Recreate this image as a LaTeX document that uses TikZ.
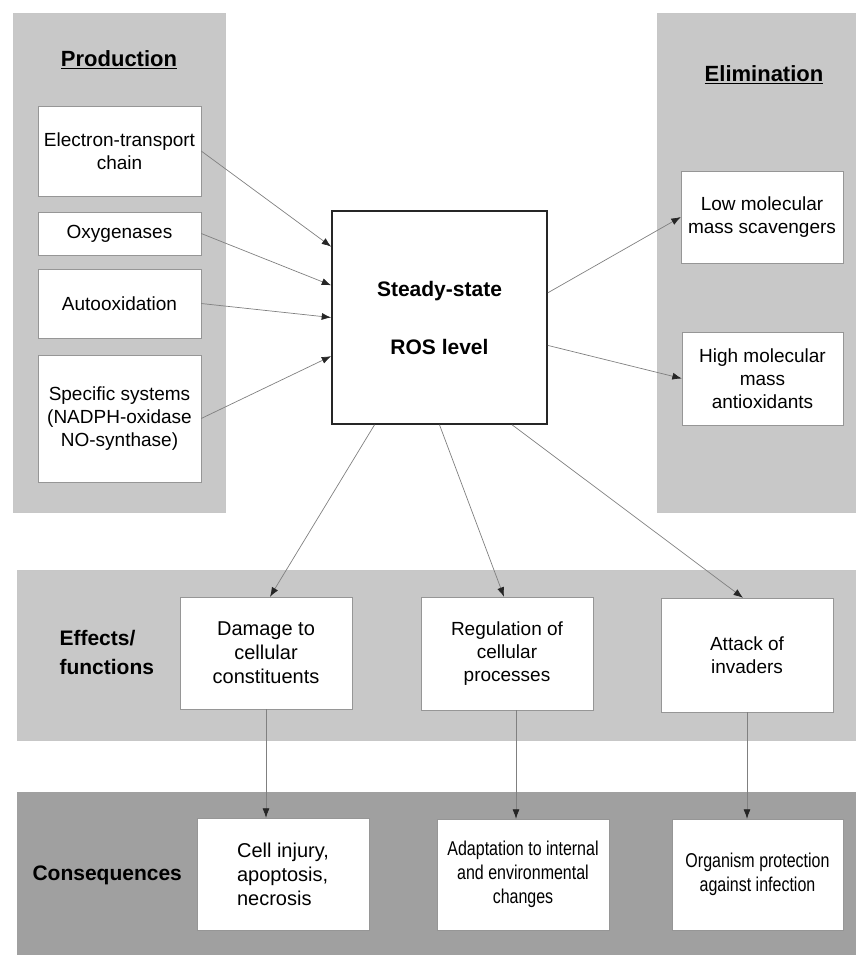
\documentclass[tikz,border=0pt]{standalone}
\usepackage{fontspec}
\setmainfont{Liberation Sans}
\newfontfamily\narrowsans[FakeStretch=0.8]{Liberation Sans}
\usepackage{tikz}
\usetikzlibrary{shapes,arrows.meta,positioning,calc}
\definecolor{lightpanel}{RGB}{200,200,200}
\definecolor{darkpanel}{RGB}{160,160,160}
\definecolor{edgegray}{RGB}{150,150,150}

\begin{document}
\begin{tikzpicture}[
    x=1pt, y=-1pt,
    panel/.style={rectangle, draw=black!22, fill=lightpanel, inner sep=0pt},
    darkpanel/.style={panel, fill=darkpanel, draw=darkpanel},
    box/.style={rectangle, draw=edgegray, fill=white, align=center, inner sep=2pt, font=\fontsize{19}{23}\selectfont},
    bigbox/.style={box, font=\fontsize{20}{24}\selectfont},
    narrowbox/.style={box, font=\narrowsans\fontsize{20}{24}\selectfont},
    rosbox/.style={rectangle, draw=black!85, line width=1.6pt, fill=white, align=center, font=\fontsize{21}{58}\selectfont\bfseries},
    heading/.style={font=\fontsize{22}{26}\selectfont\bfseries},
    rowlabel/.style={anchor=west, align=left, font=\fontsize{21}{29}\selectfont\bfseries},
    arrow/.style={-{Latex[length=9.5pt,width=7pt,color=black!85]}, draw=black!50, line width=0.7pt}
]
\useasboundingbox (0,0) rectangle (856,955);

% Panels
\node[panel, minimum width=212, minimum height=499] (prodpanel) at (119,262.5) {};
\node[panel, minimum width=199, minimum height=499] (elimpanel) at (756.5,262.5) {};
\node[panel, minimum width=839, minimum height=170] (effpanel) at (436.5,655) {};
\node[darkpanel, minimum width=839, minimum height=163] (conspanel) at (436.5,873.5) {};

% Headings
\node[heading] (prodtitle) at (119,60) {\underline{Production}};
\node[heading] (elimtitle) at (764,75) {\underline{Elimination}};
\node[rowlabel] (efflabel) at (56,652) {Effects/\\functions};
\node[rowlabel] (conslabel) at (29,875) {Consequences};

% Production
\node[box, minimum width=163, minimum height=90] (etc) at (119.5,151) {Electron-transport\\chain};
\node[box, minimum width=163, minimum height=43] (oxy) at (119.5,233.5) {Oxygenases};
\node[box, minimum width=163, minimum height=69] (auto) at (119.5,303.5) {Autooxidation};
\node[box, minimum width=163, minimum height=127] (spec) at (119.5,418.5) {Specific systems\\(NADPH-oxidase\\NO-synthase)};

% Steady state
\node[rosbox, minimum width=215, minimum height=213] (ros) at (439.5,317.5) {Steady-state\\ROS level};

% Elimination
\node[box, minimum width=162, minimum height=92] (low) at (762,217) {Low molecular\\mass scavengers};
\node[box, minimum width=161, minimum height=93] (high) at (762.5,378.5) {High molecular\\mass\\antioxidants};

% Effects/functions
\node[bigbox, minimum width=172, minimum height=112] (damage) at (266,653) {Damage to\\cellular\\constituents};
\node[box, minimum width=172, minimum height=113] (regul) at (507,653.5) {Regulation of\\cellular\\processes};
\node[box, minimum width=172, minimum height=114] (attack) at (747,655) {Attack of\\invaders};

% Consequences
\node[bigbox, align=left, minimum width=172, minimum height=112] (cell) at (283,874) {Cell injury,\\apoptosis,\\necrosis};
\node[narrowbox, minimum width=172, minimum height=111] (adapt) at (523,874.5) {Adaptation to internal\\and environmental\\changes};
\node[narrowbox, minimum width=171, minimum height=111] (organ) at (757.5,874.5) {Organism protection\\against infection};

% Arrows - production
\draw[arrow] (etc.east) -- ($(ros.north west)!0.17!(ros.south west)$);
\draw[arrow] (oxy.east) -- ($(ros.north west)!0.35!(ros.south west)$);
\draw[arrow] (auto.east) -- ($(ros.north west)!0.5!(ros.south west)$);
\draw[arrow] (spec.east) -- ($(ros.north west)!0.68!(ros.south west)$);

% Arrows - elimination
\draw[arrow] ($(ros.north east)!0.385!(ros.south east)$) -- (low.west);
\draw[arrow] ($(ros.north east)!0.63!(ros.south east)$) -- (high.west);

% Arrows - effects
\draw[arrow] ($(ros.south west)!0.2!(ros.south east)$) -- ([xshift=4pt]damage.north);
\draw[arrow] (ros.south) -- ([xshift=-3pt]regul.north);
\draw[arrow] ($(ros.south west)!0.835!(ros.south east)$) -- ([xshift=-4pt]attack.north);

% Arrows - consequences
\draw[arrow] (damage.south) -- (damage.south |- cell.north);
\draw[arrow] ([xshift=9pt]regul.south) -- ([xshift=9pt]regul.south |- adapt.north);
\draw[arrow] (attack.south) -- (attack.south |- organ.north);

\end{tikzpicture}
\end{document}
